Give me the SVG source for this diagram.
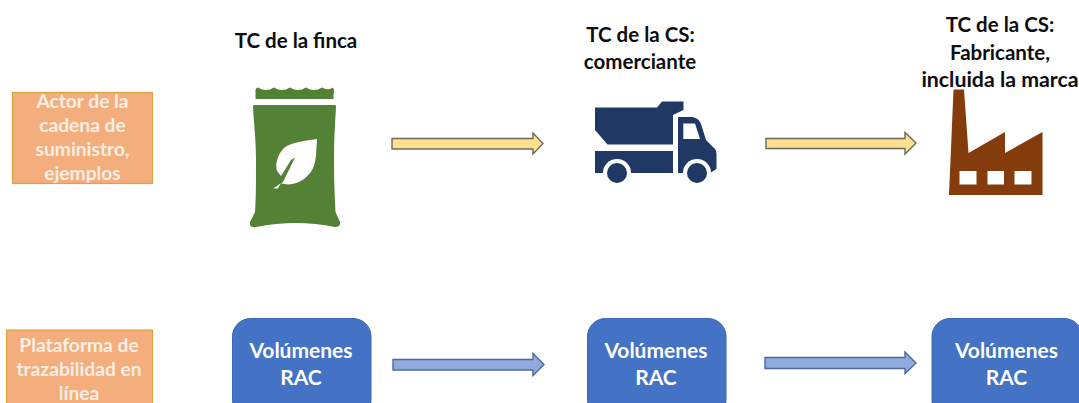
<svg xmlns="http://www.w3.org/2000/svg" width="1079" height="403" viewBox="0 0 1079 403">
<style>
text{font-family:Lato,Carlito,"Open Sans",sans-serif;font-weight:700;text-anchor:middle}
.t{font-size:20.500px;fill:#0d0d0d}
.o{font-size:19.200px;fill:#fdeee3}
.b{font-size:21px;fill:#fff}
.obox{fill:#f4ae7e;stroke:#d9a441;stroke-width:1.2}
.bbox{fill:#4472c4;stroke:#3a66b4;stroke-width:1}
.ya{fill:#ffe08f;stroke:#6b6b5c;stroke-width:1.400}
.ba{fill:#8faadc;stroke:#4f6a9c;stroke-width:1.400}
</style>
<rect width="1079" height="403" fill="#fff"/>
<g id="connectors">
<path class="ya" d="M392 138.500H533V133L543 143.500L533 154V149H392Z"/>
<path class="ya" d="M766 138.500H905V132.500L916 143L905 154V148.500H766Z"/>
<path class="ba" d="M393 359.500H533V353.500L544 364.500L533 375.500V370H393Z"/>
<path class="ba" d="M765 357.500H905V352L916 363L905 373.500V368.500H765Z"/>
</g>
<g id="label-actor">
<rect class="obox" x="12.500" y="92.500" width="140" height="91"/>
<text class="o" x="82.500" y="108">Actor de la</text>
<text class="o" x="82.500" y="132">cadena de</text>
<text class="o" x="82.500" y="156">suministro,</text>
<text class="o" x="82.500" y="180">ejemplos</text>
</g>
<g id="label-plataforma">
<rect class="obox" x="6.500" y="330" width="146" height="80"/>
<text class="o" x="79" y="352">Plataforma de</text>
<text class="o" x="79" y="376">trazabilidad en</text>
<text class="o" x="79" y="400">línea</text>
</g>
<g id="title-finca"><text class="t" x="296" y="48">TC de la finca</text></g>
<g id="title-comerciante">
<text class="t" x="640.500" y="42">TC de la CS:</text>
<text class="t" x="640" y="69">comerciante</text>
</g>
<g id="title-fabricante">
<text class="t" x="1000" y="32">TC de la CS:</text>
<text class="t" x="1000" y="60">Fabricante,</text>
<text class="t" x="1000" y="87" style="font-size:21.300px">incluida la marca</text>
</g>
<g id="icon-bag">
<path fill="#538135" d="M255.500 99V92Q255 88 258 87.500Q262 90 266 90Q270 90 274 87.500Q278 90 282 90Q286 90 290 87.500Q294 90 298 90Q302 90 306 87.500Q310 90 314 90Q318 90 322 87.500Q326 90 330 89L333 87.500Q335 92 333.500 94V99Z"/>
<path fill="#538135" d="M254 105H335Q336 105 336 107C335 125 334 140 334 160C334 185 335 200 335.500 212L340 222Q341 227 335 227Q296 219 256 227Q249 228 250 222L255 212C256 200 256 185 256 160C256 140 254 125 253 107Q253 105 254 105Z"/>
<path fill="#fff" d="M317 139C303 141 288 143 283 149C277 156 275 165 277 171L281 176L291 160L295 157.500L283 182L273 188.500H278L281 183C288 186 297 184 304 179C313 172 315 165 316 155Z"/>
</g>
<g id="icon-truck" fill="#1f3864">
<path d="M595 107.500H657L662 101.500H683.500V110L673 115V144.500H607.500L595 130Z"/>
<path d="M595 151H673V173H595Z"/>
<path fill-rule="evenodd" d="M678 117H692Q699 118 701 124L706 140L715 149Q716.500 151 716.500 154V169L710 173H678ZM683.300 123.500V139H700L695 123.500Z"/>
<circle cx="617" cy="173" r="14" fill="#fff"/>
<circle cx="697" cy="173" r="14" fill="#fff"/>
<circle cx="617" cy="173" r="10"/>
<circle cx="697" cy="173" r="10"/>
</g>
<g id="icon-factory">
<path fill="#843c0c" fill-rule="evenodd" d="M953.500 89.500H964L968.500 153L1005 132V153L1042.500 132V195H949ZM959.500 171V184.500H976.500V171ZM987.500 171V184.500H1004V171ZM1014.500 171V184.500H1031.500V171Z"/>
</g>
<g id="node-rac-1">
<rect class="bbox" x="232.500" y="318.500" width="138.500" height="100" rx="18"/>
<text class="b" x="301" y="358">Volúmenes</text>
<text class="b" x="301" y="385">RAC</text>
</g>
<g id="node-rac-2">
<rect class="bbox" x="587.500" y="318.500" width="138.500" height="100" rx="18"/>
<text class="b" x="656" y="358">Volúmenes</text>
<text class="b" x="656" y="385">RAC</text>
</g>
<g id="node-rac-3">
<rect class="bbox" x="932" y="318.500" width="150" height="100" rx="18"/>
<text class="b" x="1006.500" y="358">Volúmenes</text>
<text class="b" x="1006.500" y="385">RAC</text>
</g>
</svg>
